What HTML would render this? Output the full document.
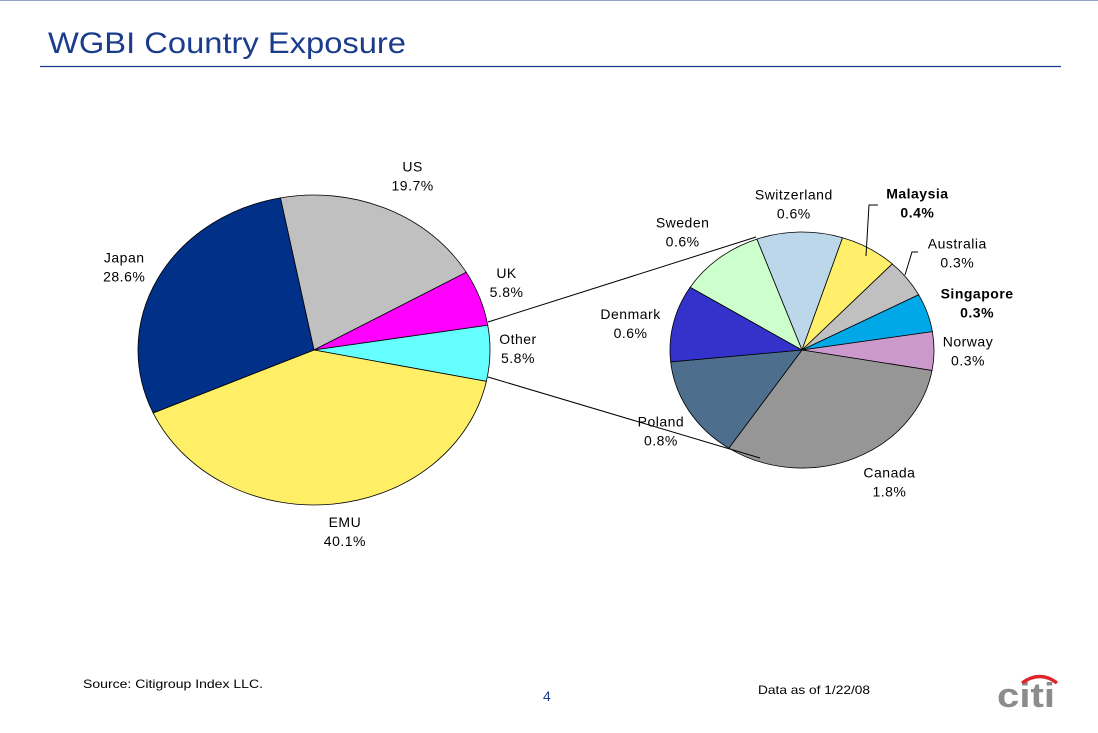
<!DOCTYPE html>
<html><head><meta charset="utf-8"><style>
body{margin:0;background:#fff;font-family:"Liberation Sans",Arial,sans-serif}
#wrap{position:relative;width:1098px;height:733px;overflow:hidden;background:#fff}
text{font-family:"Liberation Sans",Arial,sans-serif}
</style></head><body>
<div id="wrap">
<svg id="svg" width="1098" height="733" viewBox="0 0 1098 733">
<line x1="0" y1="0.5" x2="1098" y2="0.5" stroke="#8ea6c8" stroke-width="1"/>
<text x="48" y="53" font-size="30" fill="#1a3c8c" textLength="358" lengthAdjust="spacingAndGlyphs">WGBI Country Exposure</text>
<line x1="40" y1="66.5" x2="1061" y2="66.5" stroke="#1a3c8c" stroke-width="1.2"/>
<g id="main"></g>
<g id="sub"></g>
<line x1="488" y1="322" x2="756" y2="237" stroke="#000" stroke-width="1"/>
<line x1="488" y1="377" x2="760" y2="458" stroke="#000" stroke-width="1"/>
<polyline points="878,205 869,205 866,256" stroke="#000" fill="none" stroke-width="1"/>
<polyline points="918,252 912,252 905,275" stroke="#000" fill="none" stroke-width="1"/>
<text x="83" y="688" font-size="12" fill="#000" textLength="180" lengthAdjust="spacingAndGlyphs">Source: Citigroup Index LLC.</text>
<text x="543" y="701" font-size="14" fill="#1a3c8c">4</text>
<text x="758" y="694" font-size="12" fill="#000" textLength="112" lengthAdjust="spacingAndGlyphs">Data as of 1/22/08</text>
<g>
<text x="997" y="707" font-size="34" fill="#8c8c8c" font-weight="bold" textLength="58" lengthAdjust="spacingAndGlyphs">citi</text>
<path d="M1022 683 Q1040 670 1057 683" stroke="#e0242c" stroke-width="3.5" fill="none"/>
</g>
</svg>
</div>
<script>
const mainCats=["US","UK","Other","EMU","Japan"];
const mainVals=[19.7,5.8,5.8,40.1,28.6];
const mainColors=["#c0c0c0","#ff00ff","#66ffff","#ffef66","#003087"];
const mainNudge=[[10,-5],[-9,-6],[-10,-7],[8,-6],[0,2]];
const subCats=["Switzerland","Malaysia","Australia","Singapore","Norway","Canada","Poland","Denmark","Sweden"];
const subVals=[0.6,0.4,0.3,0.3,0.3,1.8,0.8,0.6,0.6];
const subColors=["#bdd7ea","#ffef6b","#c0c0c0","#00a8e8","#cc99cc","#969696","#4d6e8c","#3333cc","#ccffcc"];
const subBold=[false,true,false,true,false,false,false,false,false];
const subNudge=[[-5,6],[27,-16],[17,-5],[10,0],[-8,-2],[19,-11],[8,0],[-2,7],[-10,0]];
const NS="http://www.w3.org/2000/svg";
function pie(g,cats,vals,cols,cx,cy,rx,ry,start,bold,lblR,name,nudge){
  const tot=vals.reduce((a,b)=>a+b,0);let a=start;
  vals.forEach((v,i)=>{
    const sw=v/tot*360,a1=a*Math.PI/180,a2=(a+sw)*Math.PI/180;
    const x1=cx+rx*Math.cos(a1),y1=cy+ry*Math.sin(a1),x2=cx+rx*Math.cos(a2),y2=cy+ry*Math.sin(a2);
    const p=document.createElementNS(NS,"path");
    p.setAttribute("d",`M${cx} ${cy}L${x1} ${y1}A${rx} ${ry} 0 ${sw>180?1:0} 1 ${x2} ${y2}Z`);
    p.setAttribute("fill",cols[i]);p.setAttribute("stroke","#000");p.setAttribute("stroke-width","0.8");
    
    
    g.appendChild(p);
    const m=(a+sw/2)*Math.PI/180;
    const lx=cx+(rx+lblR)*Math.cos(m)+nudge[i][0],ly=cy+(ry+lblR*0.85)*Math.sin(m)+nudge[i][1];
    const t=document.createElementNS(NS,"text");
    t.setAttribute("x",lx);t.setAttribute("y",ly-3);t.setAttribute("font-size","14");
    t.setAttribute("text-anchor","middle");t.setAttribute("fill","#000");
    if(bold&&bold[i])t.setAttribute("font-weight","bold");
    t.setAttribute("letter-spacing","0.5");
    
    
    const s1=document.createElementNS(NS,"tspan");s1.setAttribute("x",lx);s1.textContent=cats[i];
    const s2=document.createElementNS(NS,"tspan");s2.setAttribute("x",lx);s2.setAttribute("dy","19");s2.textContent=v.toFixed(1)+"%";
    t.appendChild(s1);t.appendChild(s2);g.appendChild(t);
    a+=sw;
  });
}
pie(document.getElementById("main"),mainCats,mainVals,mainColors,314,350,176,155,-101,null,38,"main",mainNudge);
pie(document.getElementById("sub"),subCats,subVals,subColors,802,350,132,118,-110,subBold,42,"other",subNudge);
</script>
</body></html>
